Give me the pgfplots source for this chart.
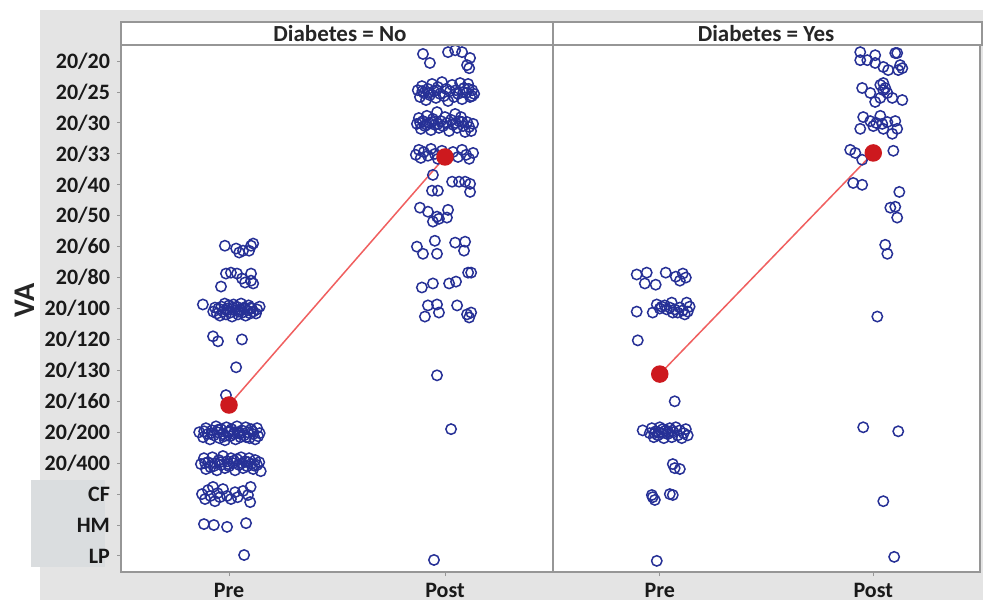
\documentclass[border=0pt]{standalone}
\usepackage{pgfplots}
\pgfplotsset{compat=1.18}
\usepackage{fontspec}
\setmainfont{Carlito}
\definecolor{navy}{RGB}{38,48,150}
\definecolor{reddot}{RGB}{205,25,30}
\definecolor{redline}{RGB}{240,95,95}
\definecolor{bggray}{RGB}{228,228,228}
\definecolor{boxgray}{RGB}{218,221,223}
\definecolor{framegray}{RGB}{150,150,150}
\pgfplotsset{
  panel/.style={
    scale only axis, height=263.5pt, anchor=south west,
    xmin=0.5, xmax=2.5, ymin=-0.52, ymax=16.52, y dir=reverse,
    axis background/.style={fill=white},
    axis line style={draw=framegray, line width=0.7pt},
    tick style={draw=framegray, line width=0.5pt},
    major tick length=2pt, tick align=outside,
    xtick={1,2}, xticklabels={Pre,Post}, xtick pos=bottom, ytick pos=left,
    ticklabel style={font=\bfseries\fontsize{11}{13}\selectfont, text=black!90},
  },
  pts/.style={only marks, mark=o, mark size=2.6pt, mark options={draw=navy, line width=0.75pt}},
  mean/.style={color=redline, line width=0.75pt, mark=*, mark size=4pt, mark options={fill=reddot, draw=reddot}},
}
\begin{document}
\begin{tikzpicture}
\useasboundingbox (0,0) rectangle (491.5pt,-300pt);
\fill[white] (0,0) rectangle (491.5pt,-300pt);
\fill[bggray] (20pt,-5pt) rectangle (491.5pt,-300pt);
\fill[boxgray] (15.5pt,-240pt) rectangle (52.5pt,-283.5pt);

% ---------------- Diabetes = No ----------------
\begin{axis}[panel, at={(60.5pt,-286pt)}, width=216pt,
  ytick={0,...,16},
  yticklabels={20/20,20/25,20/30,20/33,20/40,20/50,20/60,20/80,20/100,20/120,20/130,20/160,20/200,20/400,CF,HM,LP}]
% Pre
\addplot[pts] coordinates {
(0.981,5.97)(1.033,6.06)(1.047,6.19)(1.065,6.13)(1.102,5.97)(1.112,5.90)(1.093,6.13)
(0.963,7.29)(0.986,6.87)(1.009,6.84)(1.037,6.87)(1.060,7.03)(1.074,7.16)(1.102,6.87)(1.102,7.10)(1.112,7.19)
(0.879,7.87)(0.927,8.10)(0.935,7.97)(0.944,8.16)(0.951,8.0)(0.958,8.23)(0.965,7.94)(0.972,8.10)(0.980,7.84)(0.986,8.19)
(0.993,8.0)(1.0,7.90)(1.007,8.13)(1.014,8.26)(1.021,7.87)(1.028,8.06)(1.035,7.94)(1.042,8.19)(1.049,8.03)(1.056,7.84)
(1.063,8.13)(1.070,7.97)(1.077,8.23)(1.084,8.06)(1.091,7.90)(1.098,8.16)(1.105,8.0)(1.112,8.10)(1.130,8.03)(1.142,7.94)
(0.990,8.06)(1.017,7.97)(1.045,8.10)(1.073,8.0)(1.100,7.97)(1.125,8.16)
(0.926,8.90)(0.949,9.06)(1.060,9.0)
(1.033,9.9)
(0.986,10.80)
(0.862,12.0)(0.880,12.16)(0.893,11.87)(0.900,12.06)(0.912,12.23)(0.921,11.94)(0.930,12.10)(0.940,11.81)(0.947,12.0)(0.956,12.19)
(0.963,11.90)(0.972,12.06)(0.981,12.26)(0.988,11.84)(0.995,12.0)(1.005,12.13)(1.012,11.90)(1.021,12.06)(1.030,12.23)(1.037,11.81)
(1.044,12.0)(1.053,12.16)(1.060,11.94)(1.070,12.10)(1.077,11.84)(1.086,12.0)(1.095,12.19)(1.102,11.90)(1.112,12.06)(1.121,12.23)
(1.130,11.87)(1.142,12.03)
(0.885,11.97)(0.918,12.03)(0.950,11.92)(0.978,12.13)(1.000,11.97)(1.025,12.00)(1.050,12.05)(1.080,12.16)(1.108,11.97)(1.135,12.13)
(0.870,13.03)(0.884,12.84)(0.893,13.19)(0.903,12.97)(0.914,13.13)(0.923,12.81)(0.935,13.0)(0.944,13.23)(0.953,12.90)(0.963,13.06)
(0.972,12.77)(0.981,13.16)(0.991,12.94)(1.000,13.10)(1.009,12.84)(1.019,13.0)(1.028,13.23)(1.037,12.87)(1.047,13.06)(1.056,12.81)
(1.065,13.16)(1.074,12.94)(1.084,13.10)(1.093,12.84)(1.102,13.03)(1.112,13.19)(1.121,12.90)(1.130,13.06)(1.140,12.97)(1.147,13.26)
(0.890,13.00)(0.928,13.10)(0.958,12.97)(0.996,13.03)(1.023,12.92)(1.060,13.00)(1.089,12.97)(1.117,13.08)
(0.875,14.0)(0.889,14.16)(0.903,13.87)(0.914,14.06)(0.926,13.77)(0.935,14.23)(0.947,13.97)(0.958,14.10)(0.972,13.84)(0.991,14.06)
(1.009,14.16)(1.028,13.94)(1.040,14.10)(1.065,13.90)(1.088,14.03)(1.100,13.77)(1.098,14.26)
(0.884,14.97)(0.930,15.0)(0.991,15.06)(1.079,14.94)
(1.070,15.97)
};
% Post
\addplot[pts] coordinates {
(1.898,-0.23)(1.930,0.06)(2.014,-0.29)(2.047,-0.35)(2.079,-0.29)(2.116,-0.10)(2.102,0.13)(2.112,0.23)
(1.874,0.94)(1.884,1.16)(1.893,0.81)(1.902,1.03)(1.912,1.26)(1.921,0.90)(1.930,1.10)(1.940,0.74)(1.949,0.97)(1.958,1.19)
(1.967,0.84)(1.977,1.06)(1.986,0.68)(1.995,1.13)(2.005,0.90)(2.014,1.29)(2.023,0.97)(2.033,0.77)(2.042,1.16)(2.051,0.94)
(2.060,1.06)(2.070,0.71)(2.079,1.23)(2.088,0.87)(2.098,1.03)(2.107,0.74)(2.116,1.16)(2.126,0.94)(2.135,1.06)
(1.895,0.97)(1.925,1.03)(1.960,0.94)(2.085,1.00)(2.110,0.90)(2.125,1.13)
(1.870,2.03)(1.879,1.84)(1.888,2.19)(1.898,1.94)(1.907,2.10)(1.916,1.77)(1.926,2.0)(1.935,2.23)(1.944,1.87)(1.953,2.06)
(1.963,1.65)(1.972,2.16)(1.981,1.94)(1.991,2.10)(2.000,1.81)(2.009,2.0)(2.019,2.26)(2.028,1.90)(2.037,2.06)(2.047,1.71)
(2.056,2.16)(2.065,1.94)(2.074,1.81)(2.084,2.10)(2.093,2.29)(2.102,1.97)(2.112,2.13)(2.121,2.26)(2.130,2.03)
(1.885,2.00)(1.915,2.06)(1.940,1.97)(1.968,2.03)(2.050,2.00)(2.080,1.97)
(1.865,3.03)(1.879,2.87)(1.888,3.13)(1.902,2.94)(1.921,3.06)(1.935,2.84)(1.953,3.0)(1.967,3.16)(1.986,2.90)(2.009,3.06)
(2.037,2.94)(2.060,3.10)(2.079,2.87)(2.098,3.03)(2.112,3.16)(2.130,2.97)
(1.944,3.68)(1.940,4.19)(1.967,4.19)(2.033,3.90)(2.065,3.90)(2.093,3.90)(2.116,4.23)(2.116,3.97)
(1.884,4.74)(1.921,4.87)(1.944,5.19)(1.963,5.03)(1.972,5.10)(2.014,4.81)(2.009,5.06)
(1.870,6.0)(1.898,6.23)(1.953,5.81)(1.963,6.23)(2.047,5.87)(2.093,5.84)(2.088,6.13)
(1.893,7.32)(1.944,7.19)(2.019,7.19)(2.051,7.13)(2.107,6.84)(2.121,6.84)
(1.907,8.26)(1.921,7.90)(1.963,7.87)(1.972,8.13)(2.056,7.90)(2.102,8.19)(2.112,8.29)(2.121,8.13)
(1.963,10.16)(2.028,11.90)(1.949,16.13)
};
\addplot[mean] coordinates {(1,11.12)(2,3.10)};
\end{axis}

% ---------------- Diabetes = Yes ----------------
\begin{axis}[panel, at={(276.5pt,-286pt)}, width=213.5pt, ytick=\empty]
% Pre
\addplot[pts] coordinates {
(0.892,6.90)(0.939,6.84)(0.930,7.19)(0.981,7.23)(1.028,6.84)(1.075,6.97)(1.094,7.10)(1.108,6.87)(1.122,7.0)
(0.892,8.10)(0.967,8.13)(0.986,7.87)(1.009,7.94)(1.033,8.03)(1.056,7.81)(1.061,8.13)(1.094,7.97)(1.117,8.19)(1.126,7.81)
(1.131,8.10)(1.140,7.94)(1.000,8.0)(1.023,7.90)(1.070,8.03)(1.084,8.13)(1.047,7.97)(1.108,8.06)
(0.897,9.03)
(1.070,11.0)
(0.920,11.94)(0.953,12.03)(0.963,11.87)(0.972,12.16)(0.981,11.97)(0.991,12.10)(1.000,11.84)(1.009,12.03)(1.019,12.19)(1.028,11.94)
(1.037,12.06)(1.047,11.87)(1.056,12.16)(1.065,12.0)(1.075,11.84)(1.084,12.10)(1.094,11.94)(1.103,12.19)(1.112,12.03)(1.122,11.90)
(1.131,12.10)(1.014,11.90)(0.995,12.00)(1.040,12.00)(1.060,11.95)(0.975,12.03)
(1.061,13.03)(1.070,13.16)(1.094,13.19)
(0.963,14.03)(0.977,14.19)(0.967,14.10)(1.047,14.0)(1.061,14.03)
(0.986,16.16)
};
% Post
\addplot[pts] coordinates {
(1.939,-0.29)(1.939,-0.03)(1.972,-0.03)(2.009,-0.19)(2.009,0.06)(2.047,0.19)(2.070,0.29)(2.103,-0.26)(2.112,-0.26)(2.126,0.13)
(2.117,0.29)(2.136,0.23)
(1.948,0.87)(1.986,1.03)(2.009,1.32)(2.033,0.77)(2.047,0.71)(2.047,0.94)(2.066,1.03)(2.033,1.19)(2.089,1.19)(2.136,1.26)(2.056,0.87)
(1.939,2.19)(1.953,1.81)(1.986,1.94)(2.000,2.10)(2.033,1.77)(2.042,2.03)(2.047,2.19)(2.066,1.97)(2.089,2.35)(2.103,1.94)
(2.112,2.19)(2.014,2.0)
(1.892,2.87)(1.916,2.97)(1.948,3.19)(2.094,2.90)
(1.906,3.94)(1.948,4.0)(2.122,4.23)
(2.080,4.74)(2.103,4.71)(2.112,5.06)
(2.056,5.94)(2.066,6.23)
(2.019,8.26)
(1.953,11.84)(2.117,11.97)
(2.047,14.23)
(2.098,16.03)
};
\addplot[mean] coordinates {(1,10.12)(2,2.97)};
\end{axis}

% strips
\draw[framegray, line width=0.7pt, fill=white] (60.5pt,-11pt) rectangle (276.5pt,-22.5pt);
\draw[framegray, line width=0.7pt, fill=white] (276.5pt,-11pt) rectangle (491pt,-22.5pt);
\node[font=\bfseries\fontsize{11.5}{13}\selectfont, text=black!85] at (170pt,-16.9pt) {Diabetes = No};
\node[font=\bfseries\fontsize{11.5}{13}\selectfont, text=black!85] at (383pt,-16.9pt) {Diabetes = Yes};
\node[font=\bfseries\fontsize{15}{17}\selectfont, text=black!85, rotate=90] at (12.5pt,-150pt) {VA};
\end{tikzpicture}
\end{document}
